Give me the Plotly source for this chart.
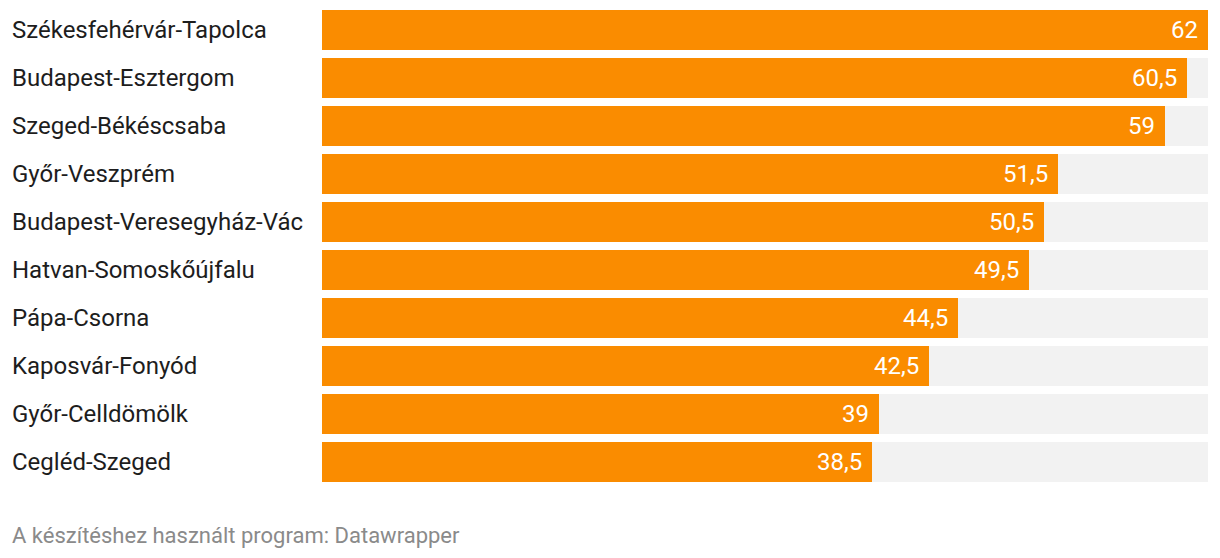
import plotly.graph_objects as go

categories = ["Székesfehérvár-Tapolca", "Budapest-Esztergom", "Szeged-Békéscsaba",
              "Győr-Veszprém", "Budapest-Veresegyház-Vác", "Hatvan-Somoskőújfalu",
              "Pápa-Csorna", "Kaposvár-Fonyód", "Győr-Celldömölk", "Cegléd-Szeged"]
values = [62, 60.5, 59, 51.5, 50.5, 49.5, 44.5, 42.5, 39, 38.5]
footer = "A készítéshez használt program: Datawrapper"

W, H = 1220, 558
L, R, T, B = 322, 12, 6, 72
vmax = max(values)

fig = go.Figure()
fig.add_trace(go.Bar(y=categories, x=[vmax] * len(values), orientation="h",
                     marker=dict(color="#f2f2f2", line=dict(width=0)),
                     width=40 / 48, hoverinfo="skip"))
fig.add_trace(go.Bar(y=categories, x=values, orientation="h",
                     marker=dict(color="#fa8c00", line=dict(width=0)),
                     width=40 / 48))

def fmt(v):
    s = ("%g" % v).replace(".", ",")
    return s

lx = (10 - L) / (W - L - R)
for c, v in zip(categories, values):
    fig.add_annotation(x=v, y=c, xref="x", yref="y", text=fmt(v), showarrow=False,
                       xanchor="right", xshift=-8,
                       font=dict(family="Roboto", size=24, color="white"))
    fig.add_annotation(x=lx, y=c, xref="paper", yref="y", text=c,
                       showarrow=False, xanchor="left",
                       font=dict(family="Roboto", size=24, color="#1d1d1d"))

fig.add_annotation(x=lx, y=(H - 535 - B) / (H - T - B),
                   xref="paper", yref="paper", text=footer, showarrow=False,
                   xanchor="left", yanchor="middle",
                   font=dict(family="Roboto", size=22, color="#8a8a8a"))

fig.update_layout(
    width=W, height=H, margin=dict(l=L, r=R, t=T, b=B),
    barmode="overlay", showlegend=False,
    paper_bgcolor="white", plot_bgcolor="white",
    xaxis=dict(range=[0, vmax], visible=False, fixedrange=True),
    yaxis=dict(visible=False, fixedrange=True),
    bargap=0,
)
fig.update_yaxes(autorange=False, range=[len(categories) - 0.5, -0.5])
fig.write_html("out.html")
